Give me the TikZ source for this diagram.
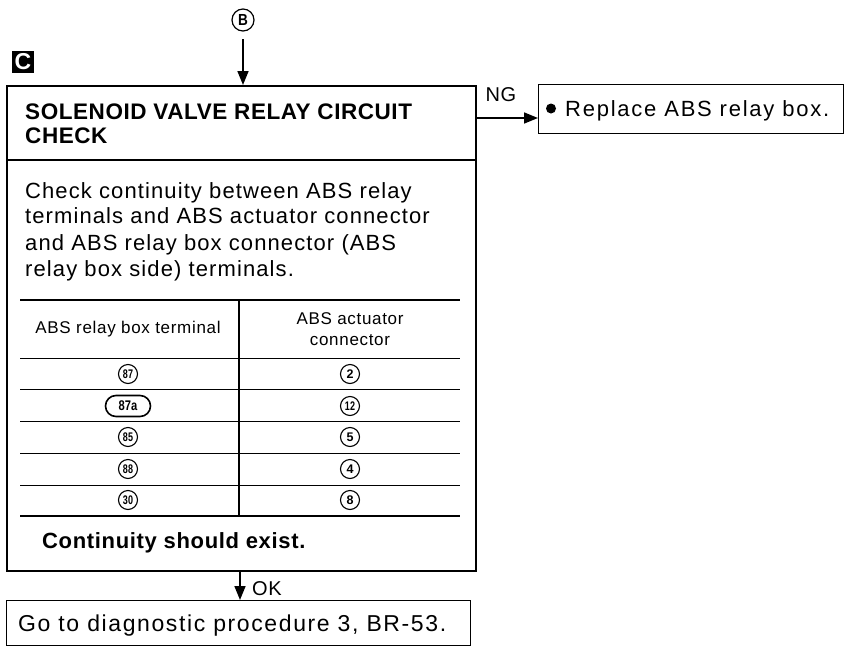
\documentclass[tikz,border=0pt]{standalone}
\usepackage{fontspec}
\setmainfont{Liberation Sans}
\usetikzlibrary{arrows.meta,shapes.misc}
\begin{document}
\begin{tikzpicture}[x=1pt,y=-1pt,
  box/.style={draw, line width=1.3pt, inner sep=0pt},
  arr/.style={line width=1.6pt, -{Triangle[length=14pt,width=11pt]}},
  txt/.style={anchor=base west, inner sep=0pt},
  bodyf/.style={font=\fontsize{22}{26}\selectfont\addfontfeatures{LetterSpace=5}},
  titlef/.style={font=\bfseries\fontsize{22.5}{26}\selectfont\addfontfeatures{LetterSpace=2.5}},
  tabf/.style={font=\fontsize{17}{21}\selectfont\addfontfeatures{LetterSpace=4}},
  cnum/.style={circle, draw, line width=1.1pt, minimum size=19pt, inner sep=0pt, font=\bfseries\fontsize{12.5}{12}\selectfont},
  thinline/.style={line width=0.9pt},
  thickline/.style={line width=2.4pt}
]
\useasboundingbox (0,0) rectangle (849,667);
% B connector
\node[circle, draw, line width=1.2pt, minimum size=22pt, inner sep=0pt, font=\bfseries\fontsize{16}{16}\selectfont] (B) at (243,20) {\scalebox{0.85}[1]{B}};
\coordinate (bstart) at (243,39);
% C label
\node[fill=black, minimum size=22pt, inner sep=0pt, text=white, font=\bfseries\fontsize{23}{23}\selectfont] (C) at (23,62) {C};
% main box
\node[box, line width=2pt, anchor=north west, minimum width=469pt, minimum height=485pt] (main) at (6,85) {};
\coordinate (sepL) at (6,160);
\coordinate (sepR) at (475,160);
\draw[line width=1.6pt] (sepL) -- (sepR);
\node[txt, titlef] (title1) at (25,119) {SOLENOID VALVE RELAY CIRCUIT};
\node[txt, titlef] (title2) at (25,143.5) {CHECK};
\node[txt, bodyf] (b1) at (25,198) {Check continuity between ABS relay};
\node[txt, bodyf] (b2) at (25,223.5) {terminals and ABS actuator connector};
\node[txt, bodyf] (b3) at (25,250) {and ABS relay box connector (ABS};
\node[txt, bodyf] (b4) at (25,276) {relay box side) terminals.};
% table
\coordinate (tl) at (20,300);
\coordinate (tr) at (460,300);
\draw[thickline] (tl) -- (tr);
\coordinate (r1l) at (20,358); \coordinate (r1r) at (460,358);
\coordinate (r2l) at (20,389); \coordinate (r2r) at (460,389);
\coordinate (r3l) at (20,421); \coordinate (r3r) at (460,421);
\coordinate (r4l) at (20,453); \coordinate (r4r) at (460,453);
\coordinate (r5l) at (20,485); \coordinate (r5r) at (460,485);
\coordinate (bl) at (20,516); \coordinate (br) at (460,516);
\draw[thinline] (r1l) -- (r1r) (r2l) -- (r2r) (r3l) -- (r3r) (r4l) -- (r4r) (r5l) -- (r5r);
\draw[thickline] (bl) -- (br);
\coordinate (vt) at (239,300);
\coordinate (vb) at (239,516);
\draw[line width=2pt] (vt) -- (vb);
\node[tabf, inner sep=0pt] (h1) at (128,329) {ABS relay box terminal};
\node[tabf, inner sep=0pt, align=center] (h2) at (350,329) {ABS actuator\\connector};
% rows
\node[cnum] (a1) at (128,374) {\scalebox{0.72}[1]{87}};
\node[rounded rectangle, draw, line width=1.6pt, minimum width=45pt, minimum height=21pt, inner sep=0pt, font=\bfseries\fontsize{14}{14}\selectfont] (a2) at (128,406) {\scalebox{0.8}[1]{87a}};
\node[cnum] (a3) at (128,437) {\scalebox{0.72}[1]{85}};
\node[cnum] (a4) at (128,469) {\scalebox{0.72}[1]{88}};
\node[cnum] (a5) at (128,500) {\scalebox{0.72}[1]{30}};
\node[cnum] (c1) at (350,374) {2};
\node[cnum] (c2) at (350,406) {\scalebox{0.72}[1]{12}};
\node[cnum] (c3) at (350,437) {5};
\node[cnum] (c4) at (350,469) {4};
\node[cnum] (c5) at (350,500) {8};
\node[txt, font=\bfseries\fontsize{22}{26}\selectfont\addfontfeatures{LetterSpace=3}] (cont) at (42,548) {Continuity should exist.};
% top arrow
\draw[arr] (bstart) -- (main.north -| bstart);
% NG branch
\node[box, anchor=north west, minimum width=305pt, minimum height=49pt] (rep) at (538,84) {};
\node[circle, fill, minimum size=10pt, inner sep=0pt] (bullet) at (551,108.5) {};
\node[txt, font=\fontsize{22}{26}\selectfont\addfontfeatures{LetterSpace=8}] (reptxt) at (565,116.5) {Replace ABS relay box.};
\coordinate (ngs) at (475,118);
\draw[arr] (ngs) -- (ngs -| rep.west);
\node[font=\fontsize{20}{20}\selectfont\addfontfeatures{LetterSpace=3}, inner sep=0pt] (ng) at (501,95) {NG};
% OK branch
\node[box, anchor=north west, minimum width=464pt, minimum height=45pt] (go) at (6,600) {};
\node[txt, font=\fontsize{23}{26}\selectfont\addfontfeatures{LetterSpace=7}] (gotxt) at (18,631) {Go to diagnostic procedure 3, BR-53.};
\coordinate (oks) at (240,570);
\draw[arr] (oks) -- (go.north -| oks);
\node[txt, font=\fontsize{20}{20}\selectfont\addfontfeatures{LetterSpace=3}] (ok) at (252,595) {OK};
\end{tikzpicture}
\end{document}
